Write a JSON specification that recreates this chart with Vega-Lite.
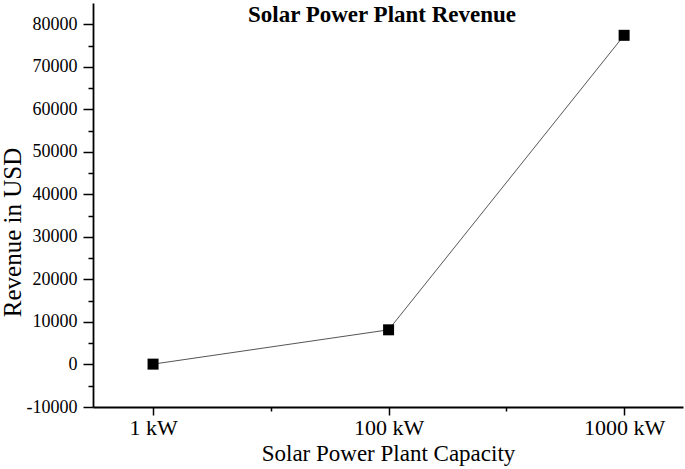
{
  "$schema": "https://vega.github.io/schema/vega-lite/v6.json",
  "autosize": {"type": "none"},
  "padding": {"left": 93, "top": 3, "right": 2, "bottom": 62},
  "width": 590,
  "height": 404,
  "background": "white",
  "title": {
    "text": "Solar Power Plant Revenue",
    "font": "Liberation Serif",
    "fontSize": 23,
    "fontWeight": "bold",
    "color": "black",
    "anchor": "middle",
    "offset": 0,
    "dx": -6,
    "dy": 42,
    "baseline": "alphabetic"
  },
  "config": {
    "view": {"stroke": null},
    "axis": {
      "grid": false,
      "domainColor": "black",
      "domainWidth": 1.8,
      "tickColor": "black",
      "tickWidth": 1.5,
      "labelColor": "black",
      "titleColor": "black",
      "labelFont": "Liberation Serif",
      "titleFont": "Liberation Serif",
      "titleFontWeight": "normal"
    }
  },
  "data": {
    "values": [
      {"capacity": "1 kW", "idx": 0, "revenue": 80},
      {"capacity": "100 kW", "idx": 1, "revenue": 8150},
      {"capacity": "1000 kW", "idx": 2, "revenue": 77400}
    ]
  },
  "encoding": {
    "x": {
      "field": "idx",
      "type": "quantitative",
      "scale": {"domain": [-0.255, 2.25], "nice": false, "zero": false},
      "axis": {
        "title": "Solar Power Plant Capacity",
        "titleFontSize": 23,
        "titlePadding": 4,
        "values": [0, 0.5, 1, 1.5, 2],
        "labelExpr": "datum.value == 0 ? '1 kW' : datum.value == 1 ? '100 kW' : datum.value == 2 ? '1000 kW' : ''",
        "labelFontSize": 22,
        "labelPadding": 2,
        "tickSize": {"condition": {"test": "datum.value % 1 != 0", "value": 4}, "value": 8}
      }
    },
    "y": {
      "field": "revenue",
      "type": "quantitative",
      "scale": {"domain": [-10000, 85000], "nice": false, "zero": false},
      "axis": {
        "title": "Revenue in USD",
        "titleFontSize": 25,
        "titlePadding": 1,
        "titleY": 229,
        "values": [-10000, -5000, 0, 5000, 10000, 15000, 20000, 25000, 30000, 35000, 40000, 45000, 50000, 55000, 60000, 65000, 70000, 75000, 80000],
        "labelExpr": "datum.value % 10000 == 0 ? '' + datum.value : ''",
        "labelFontSize": 18,
        "labelPadding": 6,
        "tickSize": {"condition": {"test": "datum.value % 10000 != 0", "value": 5}, "value": 10}
      }
    }
  },
  "layer": [
    {"mark": {"type": "line", "color": "#555555", "strokeWidth": 1}},
    {"mark": {"type": "point", "shape": "square", "filled": true, "color": "black", "size": 121, "opacity": 1}}
  ]
}
